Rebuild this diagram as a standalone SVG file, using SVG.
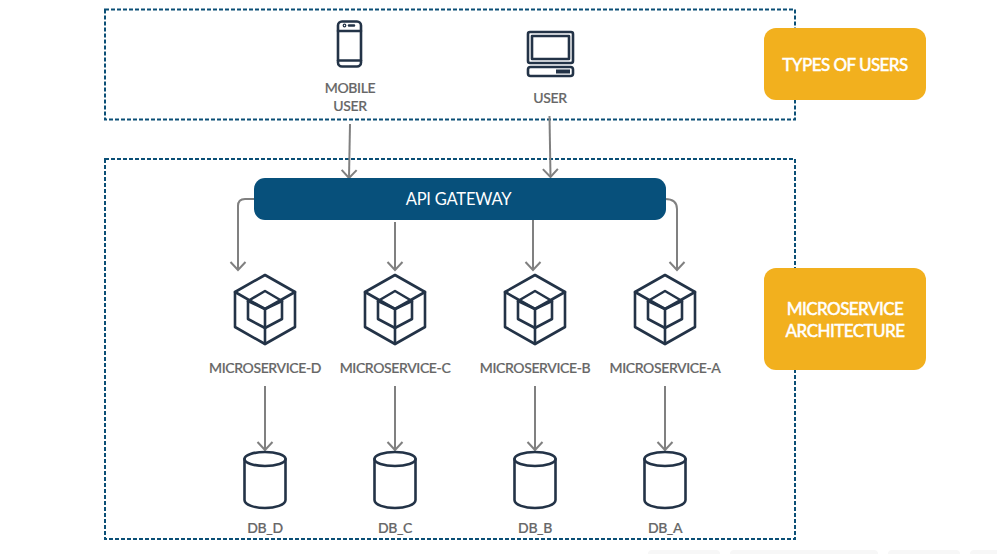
<svg xmlns="http://www.w3.org/2000/svg" width="997" height="554" viewBox="0 0 997 554">
<style>
text{font-family:Lato,"Open Sans","Liberation Sans",sans-serif;text-anchor:middle}
.lb{font-size:14px;font-weight:500;fill:#666;letter-spacing:-.38px;stroke:#666;stroke-width:.2px}
.tag{font-size:17px;font-weight:500;fill:#fff;letter-spacing:-.55px;stroke:#fff;stroke-width:.4px}
.box{fill:none;stroke:#0b4f76;stroke-width:2;stroke-dasharray:4 2}
.ic{fill:none;stroke:#233347;stroke-width:2.6;stroke-linejoin:round;stroke-linecap:round}
.cn{fill:none;stroke:#808080;stroke-width:2;marker-end:url(#a)}
</style>
<defs>
<marker id="a" markerUnits="userSpaceOnUse" markerWidth="20" markerHeight="20" refX="15" refY="8" orient="auto" overflow="visible"><path d="M7 .5L15 8L7 15.500" fill="none" stroke="#808080" stroke-width="2"/></marker>
<g id="cube" class="ic"><path d="M0-34L30-17V18L0 35L-30 18V-17Z"/><path d="M-30-17L0 0L30-17M0 0V35"/><path d="M0-18L17-8V10L0 19L-17 10V-8Z"/><path d="M-17-8L0 0L17-8"/></g>
<g id="db" class="ic"><ellipse cx="0" cy="0" rx="20.500" ry="7"/><path d="M-20.500 0V41C-20.500 46-10 49 0 49S20.500 46 20.500 41V0"/></g>
</defs>
<rect width="997" height="554" fill="#fff"/>
<g id="bottom-marks" fill="#f7f7f7"><rect x="648" y="550" width="72" height="10" rx="4"/><rect x="730" y="550" width="148" height="10" rx="4"/><rect x="888" y="550" width="72" height="10" rx="4"/><rect x="970" y="550" width="40" height="10" rx="4"/></g>
<g id="users-box"><rect class="box" x="105" y="9.500" width="690" height="110"/></g>
<g id="arch-box"><rect class="box" x="105" y="159" width="690" height="380"/></g>
<g id="connectors">
<path class="cn" d="M350 124L349 178"/>
<path class="cn" d="M549.500 116L550.500 177"/>
<path class="cn" d="M255 199H245Q238 199 238 206V270"/>
<path class="cn" d="M395 222V270"/>
<path class="cn" d="M533 217V270"/>
<path class="cn" d="M665 199Q677 199 677 209V270"/>
<path class="cn" d="M265 386V450"/>
<path class="cn" d="M395 386V450"/>
<path class="cn" d="M535 386V450"/>
<path class="cn" d="M665 386V450"/>
</g>
<g id="mobile-user"><g class="ic" stroke-width="2"><rect x="338" y="21.500" width="23" height="45" rx="4"/><path d="M338 31H361M338 60.500H361M349 25.500H354"/><circle cx="344.500" cy="25.500" r=".6"/></g><text class="lb" x="350" y="93">MOBILE</text><text class="lb" x="350" y="111">USER</text></g>
<g id="user"><g class="ic" stroke-width="2"><rect x="528" y="32" width="45" height="31" rx="2"/><rect x="532" y="36" width="37" height="23"/><rect x="528" y="67" width="45" height="9" rx="2.500"/></g><rect x="556" y="69.500" width="14" height="4" fill="#233347"/><text class="lb" x="550" y="103">USER</text></g>
<g id="api-gateway"><rect x="254" y="178" width="412" height="42" rx="11" fill="#07507b"/><text x="458.500" y="205" font-size="16.500" letter-spacing="-.2" fill="#fff">API GATEWAY</text></g>
<g id="ms-d"><use href="#cube" x="265" y="309"/><text class="lb" x="265" y="373">MICROSERVICE-D</text></g>
<g id="ms-c"><use href="#cube" x="395" y="309"/><text class="lb" x="395" y="373">MICROSERVICE-C</text></g>
<g id="ms-b"><use href="#cube" x="535" y="309"/><text class="lb" x="535" y="373">MICROSERVICE-B</text></g>
<g id="ms-a"><use href="#cube" x="665" y="309"/><text class="lb" x="665" y="373">MICROSERVICE-A</text></g>
<g id="db-d"><use href="#db" x="265" y="459"/><text class="lb" x="265" y="533">DB_D</text></g>
<g id="db-c"><use href="#db" x="395" y="459"/><text class="lb" x="395" y="533">DB_C</text></g>
<g id="db-b"><use href="#db" x="535" y="459"/><text class="lb" x="535" y="533">DB_B</text></g>
<g id="db-a"><use href="#db" x="665" y="459"/><text class="lb" x="665" y="533">DB_A</text></g>
<g id="types-tag"><rect x="764" y="28" width="162" height="72" rx="12" fill="#f2b01e"/><text class="tag" x="845" y="70.500">TYPES OF USERS</text></g>
<g id="arch-tag"><rect x="764" y="268" width="162" height="102" rx="12" fill="#f2b01e"/><text class="tag" x="845" y="314.500">MICROSERVICE</text><text class="tag" x="845" y="336.500">ARCHITECTURE</text></g>
</svg>
